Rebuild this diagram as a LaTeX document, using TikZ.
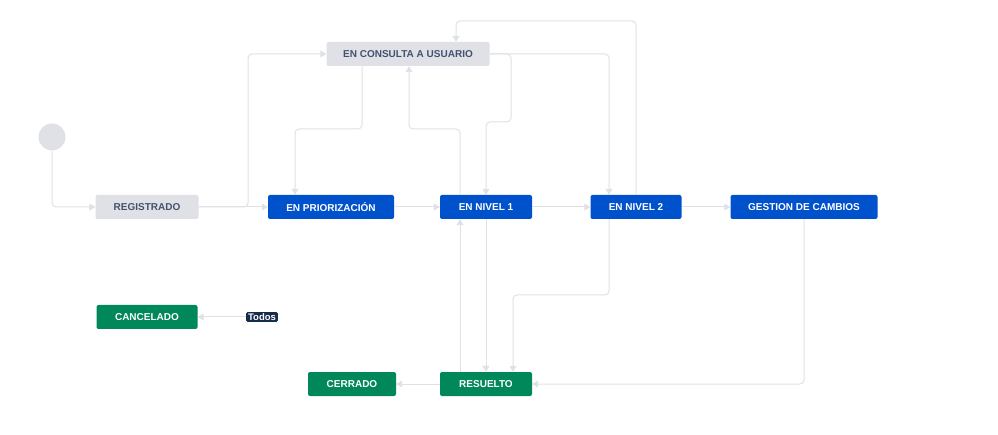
\documentclass[tikz,border=0pt]{standalone}
\usepackage{fontspec}
\setmainfont{Liberation Sans}
\usetikzlibrary{arrows.meta}
\definecolor{ln}{HTML}{DFE1E6}
\definecolor{bl}{HTML}{0052CC}
\definecolor{gr}{HTML}{00875A}
\definecolor{gy}{HTML}{DFE1E6}
\definecolor{tx}{HTML}{42526E}
\definecolor{nv}{HTML}{172B4D}
\begin{document}
\begin{tikzpicture}[x=1pt,y=-1pt,
  st/.style={rounded corners=2pt,minimum height=24pt,inner sep=0pt,font=\fontsize{10}{11}\selectfont\bfseries},
  blue/.style={st,fill=bl,text=white},
  green/.style={st,fill=gr,text=white},
  grey/.style={st,fill=gy,text=tx},
  cn/.style={draw=ln,line width=1pt,rounded corners=4pt,-{Triangle[width=7pt,length=6pt]}}]
\useasboundingbox (0,0) rectangle (998,435);
\node[circle,fill=gy,minimum size=27pt,inner sep=0pt] (start) at (52,137) {};
\node[grey,minimum width=103pt] (reg) at (147,207) {REGISTRADO};
\node[blue,minimum width=126pt] (prio) at (331,207) {EN PRIORIZACIÓN};
\node[blue,minimum width=92pt] (n1) at (486,207) {EN NIVEL 1};
\node[blue,minimum width=91pt] (n2) at (636,207) {EN NIVEL 2};
\node[blue,minimum width=147pt] (gc) at (804,207) {GESTION DE CAMBIOS};
\node[grey,minimum width=163pt] (cons) at (408,54) {EN CONSULTA A USUARIO};
\node[green,minimum width=101pt] (canc) at (147,317) {CANCELADO};
\node[fill=nv,text=white,rounded corners=1.5pt,inner xsep=2pt,inner ysep=1.5pt,font=\fontsize{9.5}{10}\selectfont\bfseries] (todos) at (262,317) {Todos};
\node[green,minimum width=88pt] (cerr) at (352,384) {CERRADO};
\node[green,minimum width=92pt] (res) at (486,384) {RESUELTO};

\draw[cn] (start.south) |- (reg.west);
\draw[cn] (reg.east) -- (prio.west);
\draw[cn] (reg.east) -- (248,207) |- (cons.west);
\draw[cn] ([xshift=-46pt]cons.south) |- (295,129) -- ([xshift=-36pt]prio.north);
\draw[cn] ([xshift=-26pt]n1.north) |- (409,129) -- ([xshift=1pt]cons.south);
\draw[cn] (cons.east) -- (511,54) |- (486,122) -- (n1.north);
\draw[cn] (cons.east) -| ([xshift=-27pt]n2.north);
\draw[cn] (n2.north) |- (456,21) -- ([xshift=48pt]cons.north);
\draw[cn] (prio.east) -- (n1.west);
\draw[cn] (n1.east) -- (n2.west);
\draw[cn] (n2.east) -- (gc.west);
\draw[cn] (n1.south) -- (res.north);
\draw[cn] ([xshift=-26pt]res.north) -- ([xshift=-26pt]n1.south);
\draw[cn] ([xshift=-27pt]n2.south) |- (513,295) -- ([xshift=27pt]res.north);
\draw[cn] (gc.south) |- (res.east);
\draw[cn] (res.west) -- (cerr.east);
\draw[cn] (todos.west) -- (canc.east);
\end{tikzpicture}
\end{document}
